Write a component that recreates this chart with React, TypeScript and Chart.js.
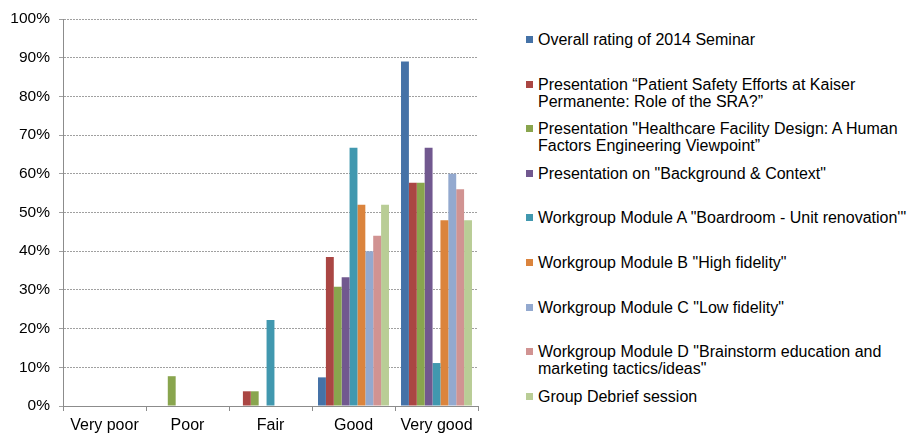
import React, { useEffect, useRef } from "react";
import { Chart, registerables } from "chart.js";

Chart.register(...registerables);

const categories = ["Very poor", "Poor", "Fair", "Good", "Very good"];

const overallRating = [0, 0, 0, 7.4, 89];
const patientSafety = [0, 0, 3.8, 38.5, 57.7];
const facilityDesign = [0, 7.7, 3.8, 30.8, 57.7];
const backgroundContext = [0, 0, 0, 33.3, 66.7];
const moduleA = [0, 0, 22.2, 66.7, 11.1];
const moduleB = [0, 0, 0, 52, 48];
const moduleC = [0, 0, 0, 40, 60];
const moduleD = [0, 0, 0, 44, 56];
const debrief = [0, 0, 0, 52, 48];

const seriesNames = [
  "Overall rating of 2014 Seminar",
  "Presentation \u201CPatient Safety Efforts at Kaiser\nPermanente: Role of the SRA?\u201D",
  "Presentation \"Healthcare Facility Design: A Human\nFactors Engineering Viewpoint\u201D",
  "Presentation on \"Background & Context\"",
  "Workgroup Module A \"Boardroom - Unit renovation'\"",
  "Workgroup Module B \"High fidelity\"",
  "Workgroup Module C \"Low fidelity\"",
  "Workgroup Module D \"Brainstorm education and\nmarketing tactics/ideas\"",
  "Group Debrief session",
];

const seriesValues = [
  overallRating,
  patientSafety,
  facilityDesign,
  backgroundContext,
  moduleA,
  moduleB,
  moduleC,
  moduleD,
  debrief,
];

const seriesColors = [
  "#4572A7",
  "#AA4643",
  "#89A54E",
  "#71588F",
  "#4198AF",
  "#DB843D",
  "#93A9CF",
  "#D19392",
  "#B9CD96",
];

const yTicks = [0, 10, 20, 30, 40, 50, 60, 70, 80, 90, 100];

const FONT = "'Liberation Sans', Arial, sans-serif";

export default function App() {
  const canvasRef = useRef<HTMLCanvasElement | null>(null);

  useEffect(() => {
    const canvas = canvasRef.current;
    if (!canvas) return;
    const chart = new Chart(canvas, {
      type: "bar",
      data: {
        labels: categories,
        datasets: seriesValues.map((vals, i) => ({
          label: seriesNames[i],
          data: vals,
          backgroundColor: seriesColors[i],
          borderWidth: 0,
          categoryPercentage: 0.855,
          barPercentage: 1,
        })),
      },
      options: {
        responsive: false,
        animation: false,
        layout: { padding: { left: 0, right: 12, top: 19, bottom: 0 } },
        plugins: {
          legend: { display: false },
          tooltip: { enabled: false },
        },
        scales: {
          x: {
            grid: {
              drawOnChartArea: false,
              drawTicks: true,
              tickLength: 5,
              offset: true,
              color: "#8c8c8c",
            },
            border: { color: "#8c8c8c", width: 1 },
            ticks: {
              color: "#000",
              font: { family: FONT, size: 16 },
              padding: 5,
              maxRotation: 0,
            },
            afterFit: (s: any) => {
              s.height = 29;
            },
          },
          y: {
            min: 0,
            max: 100,
            afterBuildTicks: (s: any) => {
              s.ticks = yTicks.map((v) => ({ value: v }));
            },
            grid: {
              color: "#a0a0a0",
              tickLength: 4,
              lineWidth: 1,
            },
            border: { color: "#8c8c8c", width: 1, dash: [2, 1] },
            ticks: {
              color: "#000",
              font: { family: FONT, size: 15.5 },
              padding: 9,
              callback: (v: any) => v + "%",
            },
            afterFit: (s: any) => {
              s.width = 63;
            },
          },
        },
      },
    });
    return () => chart.destroy();
  }, []);

  return (
    <div
      style={{
        position: "fixed",
        left: 0,
        top: 0,
        width: 907,
        height: 435,
        background: "#fff",
        overflow: "hidden",
        fontFamily: FONT,
      }}
    >
      <canvas
        ref={canvasRef}
        width={490}
        height={435}
        style={{ position: "absolute", left: 0, top: 0 }}
      />
      <div style={{ position: "absolute", left: 526, top: 31, width: 381 }}>
        {seriesNames.map((name, i) => (
          <div
            key={i}
            style={{
              position: "relative",
              height: 44.6,
              fontSize: 16,
              lineHeight: "17px",
              color: "#000",
              whiteSpace: "pre",
            }}
          >
            <span
              style={{
                position: "absolute",
                left: 0,
                top: 5,
                width: 7,
                height: 7,
                background: seriesColors[i],
              }}
            />
            <span style={{ position: "absolute", left: 12, top: 0 }}>{name}</span>
          </div>
        ))}
      </div>
    </div>
  );
}
